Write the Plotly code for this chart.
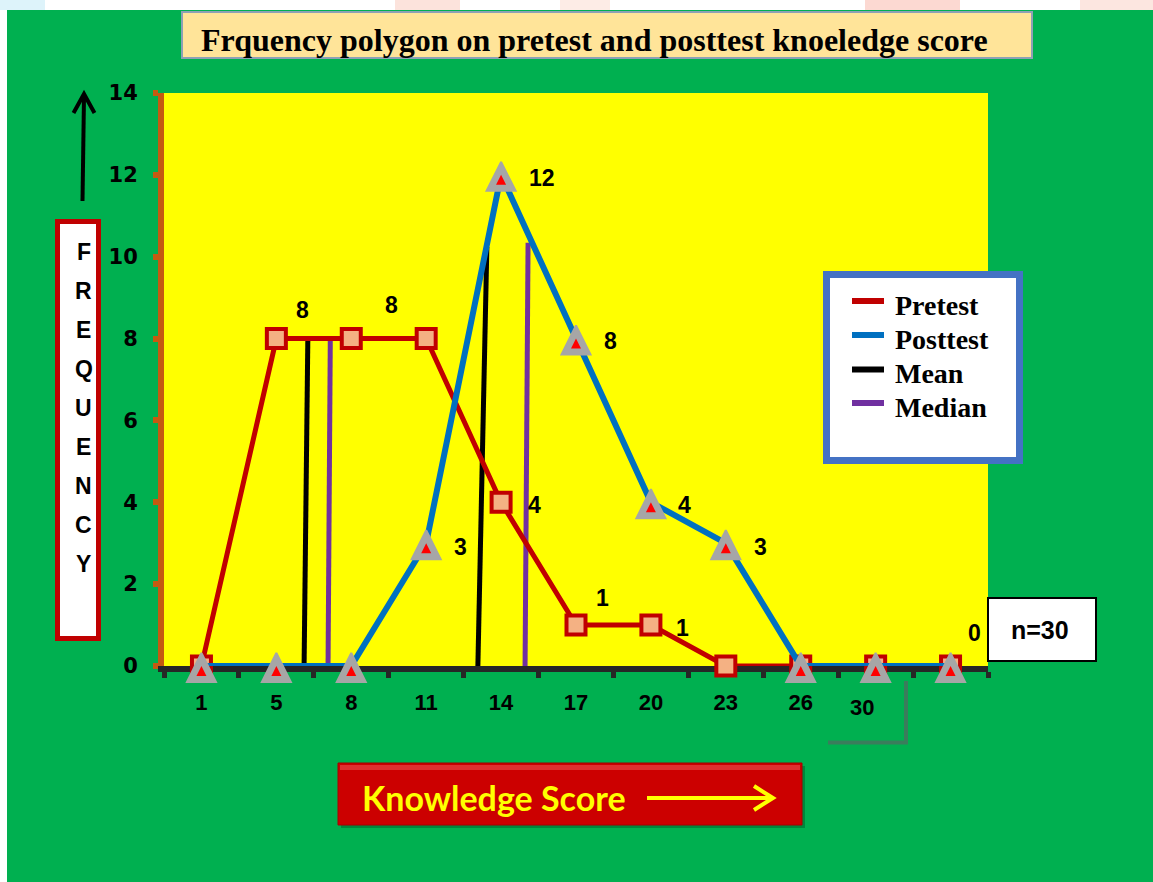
import plotly.graph_objects as go

# ---------------- data ----------------
categories = ["1", "5", "8", "11", "14", "17", "20", "23", "26", "30", ""]
pretest = [0, 8, 8, 8, 4, 1, 1, 0, 0, 0, 0]
posttest = [0, 0, 0, 3, 12, 8, 4, 3, 0, 0, 0]
pretest_labels = ["", "8", "8", "", "4", "1", "1", "", "", "", ""]
posttest_labels = ["", "", "", "3", "12", "8", "4", "3", "", "", "0"]

# mean / median marker lines (x in category-index units, y in frequency)
pre_mean_x = [1.37, 1.42]
pre_mean_y = [0, 8]
pre_median_x = [1.69, 1.72]
pre_median_y = [0, 8]
post_mean_x = [3.69, 3.81]
post_mean_y = [0, 10.24]
post_median_x = [4.32, 4.36]
post_median_y = [0, 10.34]

y_ticks = [0, 2, 4, 6, 8, 10, 12, 14]
series_names = ["Pretest", "Posttest", "Mean", "Median"]
title_text = "Frquency polygon on pretest and posttest knoeledge score"
y_title = "FREQUENCY"
x_title = "Knowledge Score"
n_text = "n=30"

# ---------------- styles ----------------
W, H = 1153, 882
L, R, T, B = 164, 165, 93, 216
PW, PH = W - L - R, H - T - B

def X(px):
    return (px - L) / PW

def Y(py):
    return (H - B - py) / PH

GREEN = "#00B050"
YELLOW = "#FFFF00"
RED = "#C00000"
BLUE = "#0070C0"
PURPLE = "#7030A0"
ORANGE = "#C55A11"
colors = [RED, BLUE, "#000000", PURPLE]

pre_offsets = {1: (26, 29), 2: (40, 34), 4: (33, -3), 5: (26, 27), 6: (32, -3)}
post_offsets = {3: (34, -4), 4: (41, -3), 5: (34, -2), 6: (34, -3), 7: (35, -4), 10: (24, 33)}

idx = list(range(len(categories)))

fig = go.Figure()

# mean / median lines
for xs, ys, c in [(pre_mean_x, pre_mean_y, "#000000"), (pre_median_x, pre_median_y, PURPLE),
                  (post_mean_x, post_mean_y, "#000000"), (post_median_x, post_median_y, PURPLE)]:
    fig.add_trace(go.Scatter(x=xs, y=ys, mode="lines", line=dict(color=c, width=5),
                             showlegend=False, hoverinfo="skip", cliponaxis=False))

fig.add_trace(go.Scatter(
    x=idx, y=pretest, mode="lines+markers", name=series_names[0],
    line=dict(color=RED, width=5),
    marker=dict(symbol="square", size=19, color="#F4B183", line=dict(color=RED, width=4)),
    showlegend=False, cliponaxis=False))

fig.add_trace(go.Scatter(
    x=idx, y=posttest, mode="lines", name=series_names[1],
    line=dict(color=BLUE, width=6),
    showlegend=False, cliponaxis=False))

# grey triangle (pointing up, centred on the point)
fig.add_trace(go.Scatter(
    x=idx, y=posttest, mode="markers",
    marker=dict(symbol="arrow-down", angle=180, size=29, color="#A6A6A6", standoff=13,
                line=dict(color="#A6A6A6", width=2)),
    showlegend=False, hoverinfo="skip", cliponaxis=False))

fig.add_trace(go.Scatter(
    x=idx, y=posttest, mode="markers",
    marker=dict(symbol="arrow-up", size=10, color="#FF0000", line=dict(width=0)),
    showlegend=False, hoverinfo="skip", cliponaxis=False))

annotations = []
label_font = dict(family="Liberation Sans, Arial, sans-serif", size=23, color="black", weight="bold")
for i, (lab, v) in enumerate(zip(pretest_labels, pretest)):
    if lab:
        dx, dy = pre_offsets.get(i, (30, 0))
        annotations.append(dict(x=i, y=v, xref="x", yref="y", text=lab, showarrow=False,
                                xanchor="center", yanchor="middle",
                                xshift=dx, yshift=dy, font=label_font))
for i, (lab, v) in enumerate(zip(posttest_labels, posttest)):
    if lab:
        dx, dy = post_offsets.get(i, (30, 0))
        annotations.append(dict(x=i, y=v, xref="x", yref="y", text=lab, showarrow=False,
                                xanchor="center", yanchor="middle",
                                xshift=dx, yshift=dy, font=label_font))

tick_font = dict(family="Liberation Sans Narrow, Liberation Sans, Arial, sans-serif", size=22,
                 color="black", weight="bold")
# shifted "30" label
annotations.append(dict(x=9, y=0, xref="x", yref="y", text=categories[9], showarrow=False,
                        xanchor="center", yanchor="middle",
                        xshift=-14, yshift=-41, font=tick_font))

def ann(px, py, text, font, xanchor="center"):
    annotations.append(dict(x=X(px), y=Y(py), xref="paper", yref="paper", text=text, showarrow=False,
                            xanchor=xanchor, yanchor="middle", font=font))

shapes = []
# white strips at the page edge, with faint watermark tints
shapes.append(dict(type="rect", xref="paper", yref="paper", x0=X(0), x1=X(W), y0=Y(10), y1=Y(0),
                   fillcolor="white", line=dict(width=0), layer="below"))
shapes.append(dict(type="rect", xref="paper", yref="paper", x0=X(0), x1=X(7), y0=Y(H), y1=Y(0),
                   fillcolor="white", line=dict(width=0), layer="below"))
for a, b, col in [(0, 45, "#DDF3FA"), (395, 460, "#FCE3DC"), (560, 610, "#FDECE6"),
                  (865, 960, "#FCD9D2"), (1080, 1153, "#FCE6E0")]:
    shapes.append(dict(type="rect", xref="paper", yref="paper", x0=X(a), x1=X(b), y0=Y(10), y1=Y(0),
                       fillcolor=col, line=dict(width=0), layer="below"))

# title box
shapes.append(dict(type="rect", xref="paper", yref="paper", x0=X(182), x1=X(1032), y0=Y(58), y1=Y(12),
                   fillcolor="#FFE499", line=dict(color="#8EA0B5", width=2)))
ann(594, 40, title_text, dict(family="Liberation Serif, Times New Roman, serif", size=32,
                               color="black", weight="bold"))

# y title box with vertical letters
shapes.append(dict(type="rect", xref="paper", yref="paper", x0=X(57.5), x1=X(98.5), y0=Y(638.5), y1=Y(221.5),
                   fillcolor="white", line=dict(color=RED, width=5)))
for k, ch in enumerate(y_title):
    ann(83.5, 252 + 39.06 * k, ch, dict(family="Liberation Sans, Arial, sans-serif", size=23,
                                         color="black", weight="bold"))
# up arrow
shapes.append(dict(type="line", xref="paper", yref="paper", x0=X(82.5), y0=Y(201), x1=X(84), y1=Y(96),
                   line=dict(color="black", width=4)))
shapes.append(dict(type="path", xref="paper", yref="paper",
                   path=f"M{X(73.5)},{Y(113)} L{X(84)},{Y(94)} L{X(94.5)},{Y(113)}",
                   line=dict(color="black", width=4)))

# legend box
shapes.append(dict(type="rect", xref="paper", yref="paper", x0=X(826.5), x1=X(1019.5), y0=Y(460.5), y1=Y(274.5),
                   fillcolor="white", line=dict(color="#4472C4", width=7)))
leg_y = [301, 335, 369.5, 403]
for name, c, yy in zip(series_names, colors, leg_y):
    shapes.append(dict(type="line", xref="paper", yref="paper", x0=X(852), x1=X(884), y0=Y(yy), y1=Y(yy),
                       line=dict(color=c, width=6)))
    ann(893, yy + 4, name, dict(family="Liberation Serif, Times New Roman, serif", size=28,
                                color="black", weight="bold"), xanchor="left")

# n=30 box
shapes.append(dict(type="rect", xref="paper", yref="paper", x0=X(988), x1=X(1096), y0=Y(661), y1=Y(598),
                   fillcolor="white", line=dict(color="black", width=2)))
ann(1040, 630, n_text, dict(family="Liberation Sans, Arial, sans-serif", size=25,
                            color="black", weight="bold"))

# grey bracket
shapes.append(dict(type="path", xref="paper", yref="paper",
                   path=f"M{X(828)},{Y(742.5)} L{X(906)},{Y(742.5)} L{X(906)},{Y(681)}",
                   line=dict(color="#3A7D5C", width=4)))

# Knowledge score box
shapes.append(dict(type="rect", xref="paper", yref="paper", x0=X(341), x1=X(805), y0=Y(828), y1=Y(766),
                   fillcolor="#00873C", line=dict(width=0)))
shapes.append(dict(type="rect", xref="paper", yref="paper", x0=X(338), x1=X(802), y0=Y(825), y1=Y(763),
                   fillcolor="#CC0000", line=dict(color="#A80000", width=1)))
shapes.append(dict(type="rect", xref="paper", yref="paper", x0=X(340), x1=X(800), y0=Y(770), y1=Y(765),
                   fillcolor="#E23030", line=dict(width=0)))
ann(360, 797, x_title, dict(family="Lato, Liberation Sans, sans-serif", size=34,
                            color="#FFFF00", weight="bold"), xanchor="left")
shapes.append(dict(type="line", xref="paper", yref="paper", x0=X(647), x1=X(771), y0=Y(798), y1=Y(798),
                   line=dict(color="#FFFF00", width=4)))
shapes.append(dict(type="path", xref="paper", yref="paper",
                   path=f"M{X(754)},{Y(786)} L{X(773)},{Y(798)} L{X(754)},{Y(810)}",
                   line=dict(color="#FFFF00", width=4)))

tickvals_x = [i for i in idx if i != 9]
ticktext_x = [categories[i] for i in tickvals_x]

fig.update_layout(
    width=W, height=H,
    margin=dict(l=L, r=R, t=T, b=B, pad=0),
    paper_bgcolor=GREEN, plot_bgcolor=YELLOW,
    showlegend=False,
    shapes=shapes, annotations=annotations,
    xaxis=dict(range=[-0.5, 10.5], tickmode="array", tickvals=tickvals_x, ticktext=ticktext_x,
               ticks="", showgrid=False, zeroline=False, showline=True, linecolor="#262626", linewidth=6,
               tickfont=tick_font, ticklabelstandoff=12, layer="below traces",
               minor=dict(tickmode="array", tickvals=[i - 0.5 for i in range(12)], ticks="outside",
                          ticklen=6, tickwidth=5, tickcolor="#262626", showgrid=False),
               fixedrange=True),
    yaxis=dict(range=[0, 14], tickmode="array", tickvals=y_ticks, ticks="outside", ticklen=5, tickwidth=6,
               tickcolor=ORANGE, showline=True, linecolor=ORANGE, linewidth=6, showgrid=False,
               zeroline=False, ticklabelstandoff=11, layer="below traces",
               tickfont=dict(family="DejaVu Sans, Verdana, sans-serif", size=21, color="black", weight="bold"),
               fixedrange=True),
)

fig.write_html("out.html", config={"displayModeBar": False},
               post_script="document.body.style.margin='0';document.body.style.overflow='hidden';")
